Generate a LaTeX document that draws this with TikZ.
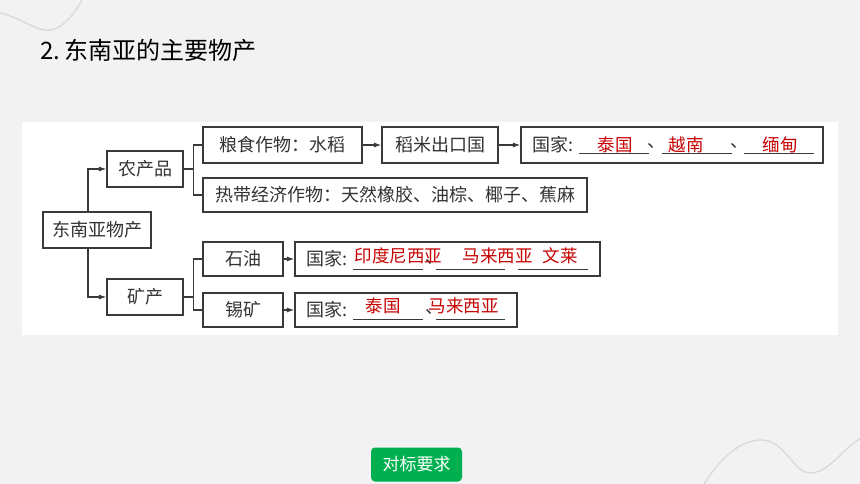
\documentclass[tikz,border=0pt]{standalone}
\usepackage{fontspec}
\setmainfont{Noto Sans CJK SC}
\usetikzlibrary{arrows.meta}
\definecolor{pagebg}{HTML}{F2F2F2}
\definecolor{swirl}{HTML}{D9D9D9}
\definecolor{boxline}{HTML}{3A3A3A}
\definecolor{inktext}{HTML}{333333}
\definecolor{ansred}{HTML}{C80000}
\definecolor{tagreen}{HTML}{00B050}
\newcommand{\diagfont}{\fontsize{18}{20}\selectfont}
\newcommand{\ansfont}{\fontsize{17.5}{20}\selectfont}
\tikzset{
	box/.style={draw=boxline, line width=1.1pt, inner sep=0pt, minimum height=36pt, text=inktext, font=\diagfont},
	link/.style={draw=boxline, line width=1.2pt},
	arr/.style={link, -{Latex[length=7.5pt,width=5pt]}},
	blank/.style={draw=boxline, line width=0.9pt},
	ans/.style={inner sep=0pt, text=ansred, font=\ansfont},
	plain/.style={inner sep=0pt, text=inktext, font=\diagfont}
}
\begin{document}
\begin{tikzpicture}[x=1pt,y=-1pt]
			\useasboundingbox (0,0) rectangle (860,484);
			\fill[pagebg] (0,0) rectangle (860,484);
			% background swirls
			\draw[swirl, line width=1.3pt] (0,13) .. controls (20,17) and (38,33) .. (52,30) .. controls (64,27) and (76,12) .. (82,0);
			\draw[swirl, line width=1.3pt] (704,484) .. controls (718,462) and (738,440) .. (761,440) .. controls (786,440) and (793,474) .. (811,473) .. controls (830,472) and (843,448) .. (860,439);
			% title
			\node[anchor=west, inner sep=0pt, font=\fontsize{24}{28}\selectfont] (title) at (40,50) {2.\,东南亚的主要物产};
			% panel
			\fill[white] (22,122) rectangle (838,335);
			\node[box, minimum width=108pt] (root) at (97,230) {东南亚物产};
			\node[box, minimum width=76pt] (agri) at (145,169) {农产品};
			\node[box, minimum width=76pt] (mine) at (145,297) {矿产};
			\node[box, minimum width=159pt] (grain) at (282.5,145) {粮食作物：水稻};
			\node[box, minimum width=116pt] (rice) at (440,145) {稻米出口国};
			\node[box, minimum width=302pt] (ricec) at (672,145) {};
			\node[box, minimum width=384pt, minimum height=34pt] (cash) at (395,195) {热带经济作物：天然橡胶、油棕、椰子、蕉麻};
			\node[box, minimum width=80pt, minimum height=34pt] (oil) at (243,259) {石油};
			\node[box, minimum width=80pt, minimum height=34pt] (tin) at (243,310) {锡矿};
			\node[box, minimum width=305pt, minimum height=34pt] (oilc) at (447.5,259) {};
			\node[box, minimum width=222pt, minimum height=34pt] (tinc) at (406,310) {};
			% connectors
			\draw[arr] ([xshift=-9pt]root.north) |- (agri.west);
			\draw[arr] ([xshift=-9pt]root.south) |- (mine.west);
			\draw[link] (agri.east) -- ++(10,0) coordinate (agrij);
			\draw[link] (grain.west) -| (agrij) |- (cash.west);
			\draw[link] (mine.east) -- ++(10,0) coordinate (minej);
			\draw[link] (oil.west) -| (minej) |- (tin.west);
			\draw[arr] (grain) -- (rice);
			\draw[arr] (rice) -- (ricec);
			\draw[arr] (oil) -- (oilc);
			\draw[arr] (tin) -- (tinc);
			% rice exporters
			\node[plain, anchor=west] (ricek) at ([xshift=12pt]ricec.west) {国家:};
			\draw[blank] (579,153) -- (649,153);
			\draw[blank] (662,153) -- (732,153);
			\draw[blank] (744,153) -- (814,153);
			\node[plain] (ricep1) at (656,146) {、};
			\node[plain] (ricep2) at (739,146) {、};
			\node[ans] (rice1) at (615,145) {泰国};
			\node[ans] (rice2) at (686,145) {越南};
			\node[ans] (rice3) at (780,145) {缅甸};
			% oil countries
			\node[plain, anchor=west] (oilk) at ([xshift=12pt]oilc.west) {国家:};
			\draw[blank] (353,269) -- (423,269);
			\draw[blank] (436,269) -- (505,269);
			\draw[blank] (518,269) -- (588,269);
			\node[plain] (oilp1) at (434,262) {、};
			\node[ans] (oil1) at (398.5,256) {印度尼西亚};
			\node[ans] (oil2) at (497.5,256) {马来西亚};
			\node[ans] (oil3) at (560,256) {文莱};
			% tin countries
			\node[plain, anchor=west] (tink) at ([xshift=12pt]tinc.west) {国家:};
			\draw[blank] (353,319) -- (423,319);
			\draw[blank] (436,319) -- (505,319);
			\node[plain] (tinp1) at (434,312) {、};
			\node[ans] (tin1) at (383,306) {泰国};
			\node[ans] (tin2) at (463.5,306) {马来西亚};
			% tag
			\node[fill=tagreen, rounded corners=4pt, minimum width=91pt, minimum height=34pt, inner sep=0pt, text=white, font=\fontsize{17}{20}\selectfont] (tag) at (416.5,464.5) {对标要求};
		\end{tikzpicture}
\end{document}
